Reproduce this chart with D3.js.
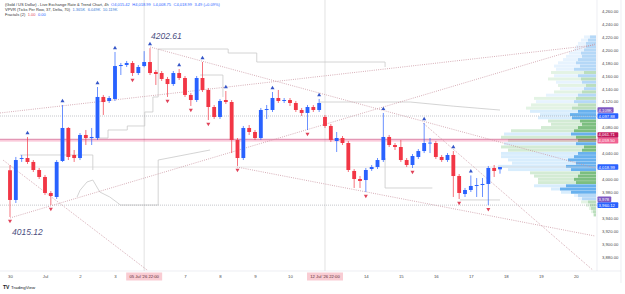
<!DOCTYPE html>
<html>
<head>
<meta charset="utf-8">
<script src="https://cdn.jsdelivr.net/npm/d3@7"></script>
<style>
  html, body { margin: 0; padding: 0; background: #fff; }
  svg { display: block; font-family: "Liberation Sans", Roboto, Arial, sans-serif; }
</style>
</head>
<body>
<svg id="chart" width="625" height="294"></svg>
<script>
// 4h candles, index 0 = first bar of 30 Jun
const opens = [4014.0, 3968.1, 4031.4, 4032.9, 4026.8, 4014.4, 4003.6, 3978.9, 3972.7, 4028.3,
  4079.3, 4037.6, 4032.9, 4068.5, 4063.8, 4063.8, 4127.2, 4121.0, 4124.1, 4175.0,
  4176.6, 4179.7, 4164.2, 4175.0, 4181.2, 4165.8, 4164.2, 4155.0, 4147.2, 4164.2,
  4156.5, 4130.3, 4122.5, 4156.5, 4138.0, 4111.7, 4096.3, 4122.5, 4119.4, 4060.7,
  4032.9, 4079.3, 4073.1, 4063.8, 4107.1, 4107.1, 4125.6, 4121.0, 4122.5, 4117.9,
  4107.1, 4102.5, 4111.7, 4107.1, 4096.3, 4082.4, 4059.2, 4063.8, 4056.1, 4012.9,
  4000.5, 3998.9, 4015.9, 4019.0, 4029.8, 4065.4, 4053.0, 4049.9, 4029.8, 4022.1,
  4034.5, 4043.7, 4056.1, 4056.1, 4034.5, 4029.8, 4037.6, 4005.1, 3977.3, 3983.5,
  3989.7, 3991.2, 3992.8, 4017.5, 4015.42];
const highs = [4022.0, 4034.5, 4037.6, 4065.4, 4029.8, 4017.5, 4006.7, 3981.9, 4029.8, 4114.8,
  4080.8, 4045.3, 4071.5, 4076.2, 4079.3, 4142.6, 4130.3, 4128.7, 4196.7, 4179.7,
  4182.8, 4182.8, 4176.6, 4198.0, 4202.61, 4168.9, 4167.3, 4158.1, 4167.3, 4170.4,
  4159.6, 4133.4, 4159.6, 4181.2, 4141.1, 4114.8, 4124.1, 4136.4, 4122.5, 4063.8,
  4082.4, 4083.9, 4076.2, 4110.2, 4114.8, 4134.9, 4138.0, 4125.6, 4125.6, 4121.0,
  4110.2, 4114.8, 4114.8, 4124.1, 4099.4, 4085.4, 4073.1, 4066.9, 4059.2, 4015.9,
  4005.1, 4017.5, 4022.1, 4032.9, 4102.5, 4068.5, 4056.1, 4060.7, 4032.9, 4039.1,
  4046.8, 4087.0, 4063.8, 4059.2, 4037.6, 4040.6, 4043.7, 4008.2, 3986.6, 4006.0,
  4002.0, 4002.0, 4020.6, 4022.1, 4018.99];
const lows = [3941.8, 3963.4, 4026.8, 4023.7, 4011.3, 4000.5, 3975.8, 3960.3, 3969.6, 4026.8,
  4029.8, 4026.8, 4029.8, 4053.0, 4053.0, 4060.7, 4099.4, 4117.9, 4121.0, 4161.1,
  4173.5, 4159.6, 4161.1, 4173.0, 4161.1, 4145.7, 4151.9, 4127.2, 4144.2, 4153.4,
  4127.2, 4113.3, 4119.4, 4134.9, 4091.6, 4093.2, 4093.2, 4116.4, 4040.6, 4020.6,
  4029.8, 4068.5, 4060.7, 4060.7, 4093.2, 4104.0, 4117.9, 4117.9, 4113.3, 4104.0,
  4097.8, 4076.2, 4104.0, 4104.0, 4079.3, 4057.6, 4042.2, 4053.0, 4011.3, 3986.6,
  3986.6, 3980.4, 4012.9, 4015.9, 4026.8, 4049.9, 4045.3, 4026.8, 4019.0, 4017.5,
  4031.4, 4040.6, 4040.6, 4031.4, 4026.8, 4026.8, 3972.7, 3969.6, 3972.7, 3980.4,
  3972.7, 3972.7, 3960.12, 4003.6, 4008.75];
const closes = [3968.1, 4029.8, 4032.9, 4026.8, 4014.4, 4003.6, 3978.9, 3974.2, 4026.8, 4079.3,
  4034.5, 4032.9, 4068.5, 4063.8, 4065.4, 4127.2, 4119.4, 4125.6, 4175.0, 4176.6,
  4179.7, 4164.2, 4173.5, 4181.2, 4164.2, 4162.7, 4155.0, 4147.2, 4164.2, 4156.5,
  4130.3, 4122.5, 4156.5, 4138.0, 4111.7, 4096.3, 4121.0, 4119.4, 4060.7, 4032.9,
  4079.3, 4073.1, 4063.8, 4107.1, 4108.6, 4125.6, 4121.0, 4122.5, 4117.9, 4107.1,
  4102.5, 4111.7, 4107.1, 4117.9, 4082.4, 4060.7, 4063.8, 4056.1, 4014.4, 4000.5,
  3997.4, 4014.4, 4019.0, 4029.8, 4065.4, 4053.0, 4049.9, 4029.8, 4022.1, 4036.0,
  4043.7, 4056.1, 4056.6, 4034.5, 4029.8, 4037.6, 4005.1, 3978.9, 3983.5, 3989.7,
  3991.2, 3992.8, 4017.5, 4012.9, 4018.99];

const fractalHighIdx = [3, 9, 15, 18, 24, 29, 33, 37, 45, 53, 64, 71, 76, 79];
const fractalLowIdx = [0, 7, 21, 27, 31, 34, 39, 51, 61, 69, 77, 82];

const dayTickIdx = [0, 6, 12, 18, 30, 36, 42, 48, 61, 67, 73, 79, 85, 91, 97];
const dayTickLabels = ['30', 'Jul', '2', '3', '7', '8', '9', '10', '14', '15', '16', '17', '18', '19', '20'];
const markIdx = [23, 54];
const markLabels = ["05 Jul '26   22:00", "12 Jul '26   22:00"];

const priceTicks = [4260, 4240, 4220, 4200, 4180, 4160, 4140, 4120, 4080, 4040, 4000, 3980, 3940, 3920, 3900, 3880];

const tagPrices = [4107.0, 4097.8, 4061.71, 4059.5, 4018.99, 3966.0, 3960.12];
const tagTexts = ['4,109K', '4,097.88', '4,061.71', '4,059.50', '4,018.99', '3,978', '3,960.12'];
const tagColors = ['#7e57c2', '#2962ff', '#c2185b', '#f06292', '#2962ff', '#7e57c2', '#2962ff'];

// trend lines: [startIdx, startPrice, endIdx, endPrice]
const trendLines = [
  [0, 3940.3, 100.3, 4209.0],
  [-1.7, 4102.5, 100.3, 4207.5],
  [24, 4204.4, 100.3, 4017.5],
  [38.9, 4019.0, 100.3, 3912.4],
  [-1.2, 4029.8, 23.5, 3859.9],
  [70.8, 4087.0, 99.9, 3859.9]
];
const levelPrices = [4097.8, 3960.12];
const redLevels = [4061.71, 4059.5];

// grey step lines: [idx, price] points
const stepUpper = [[14.9, 4063.8], [16.8, 4063.8], [16.8, 4076.2], [20.1, 4076.2], [20.1, 4082.4], [23.1, 4082.4],
  [23.1, 4104.0], [24.5, 4104.0], [24.5, 4127.2], [25.4, 4127.2], [25.4, 4201.3], [37.4, 4201.3], [37.4, 4195.1],
  [42.3, 4195.1], [42.3, 4181.2], [64.3, 4181.2], [64.3, 4173.5]];
const stepLower = [[11.5, 3972.7], [12.0, 3983.0], [13.2, 3995.9], [14.2, 3998.9], [14.9, 3988.1], [15.4, 3980.4],
  [17.1, 3972.7], [18.5, 3963.4], [18.9, 3960.3], [25.4, 3960.3], [25.4, 4029.8], [34.3, 4045.3]];
const stepLeft = [[1.7, 4037.6], [14.2, 4037.6], [14.2, 4014.4]];
const stepMid = [[32.6, 4161.1], [36.5, 4161.1], [36.5, 4127.2]];
const stepRight = [[53.1, 4119.4], [68.6, 4119.4], [76.0, 4113.0], [84, 4107.0]];
const stepLow2 = [[64.3, 4032.9], [64.3, 3986.6], [72.4, 3986.6]];
const stepLow3 = [[77.1, 3968.1], [84, 3968.1]];

// volume profile rows (price, total, delta: + green / - blue)
const vpPrice = [4220, 4215, 4210, 4205, 4200, 4195, 4190, 4185, 4180, 4175, 4170, 4165, 4160, 4155, 4150, 4145,
  4140, 4135, 4130, 4125, 4120, 4115, 4110, 4105, 4100, 4095, 4090, 4085, 4080, 4075, 4070, 4065, 4060, 4055, 4050,
  4045, 4040, 4035, 4030, 4025, 4020, 4015, 4010, 4005, 4000, 3995, 3990, 3985, 3980, 3975, 3970, 3965, 3960, 3955,
  3950, 3945];
const vpTotal = [12, 15, 18, 20, 22, 27, 30, 33, 38, 42, 40, 45, 42, 48, 40, 38,
  36, 42, 50, 62, 60, 65, 70, 66, 56, 58, 48, 45, 55, 85, 92, 95, 88, 92, 95,
  88, 95, 95, 88, 84, 98, 88, 66, 62, 58, 58, 62, 45, 35, 22, 18, 15, 10, 7,
  5, 3];
const vpDelta = [-6, -8, -10, -10, -12, -15, -14, -18, -20, -16, -22, 12, -18, 15, -14, 10,
  -12, 14, -18, 20, -22, 18, 24, -18, -26, -24, 16, 14, 18, 22, -25, 20, 18, -20, 12,
  14, -18, -22, -28, -20, -30, -25, 16, 18, 22, 20, -30, -36, -25, -18, -14, 8, 6, 5,
  3, 2];
const vaHigh = 4109, vaLow = 3978;

const headerMain = '(Gold / US Dollar) - Live Exchange Rate & Trend Chart, 4h';
const headerOhlc = ['O4,015.42', 'H4,018.99', 'L4,008.75', 'C4,018.99', '3.49 (+0.09%)'];
const headerVp = 'VPVR (Ticks Per Row, 37, Delta, 70)';
const headerVpValues = ['1.365K', '6.049K', '10.119K'];
const headerFr = 'Fractals (2)';
const headerFrValues = ['1.00', '0.00'];

const upColor = '#2962ff';
const downColor = '#f23645';
const plotRight = 597;
const plotBottom = 271;

const svg = d3.select('#chart');
const x = d3.scaleLinear().domain([0, 84]).range([10, 500]);
const y = d3.scaleLinear().domain([3880, 4260]).range([257, 11]);
const vx = d3.scaleLinear().domain([0, 100]).range([0, 100]);

svg.append('defs').append('clipPath').attr('id', 'plot')
  .append('rect').attr('x', 0).attr('y', 0).attr('width', plotRight).attr('height', plotBottom);

const plot = svg.append('g').attr('clip-path', 'url(#plot)');

// crosshair-like vertical markers
plot.selectAll('line.vmark').data(markIdx).join('line')
  .attr('x1', (d) => x(d)).attr('x2', (d) => x(d))
  .attr('y1', 0).attr('y2', plotBottom)
  .attr('stroke', '#d6d6d6').attr('stroke-width', 0.7);

// volume profile
const rowH = Math.abs(y(0) - y(5)) - 0.3;
const vp = vpPrice.map((p, i) => ({ p, total: vpTotal[i], delta: vpDelta[i], va: p <= vaHigh && p >= vaLow }));
plot.append('g').selectAll('rect').data(vp).join('rect')
  .attr('x', (d) => plotRight - 1 - vx(d.total))
  .attr('width', (d) => vx(d.total))
  .attr('y', (d) => y(d.p) - rowH / 2)
  .attr('height', rowH)
  .attr('fill', (d) => d.delta > 0 ? '#81c784' : '#90caf9')
  .attr('fill-opacity', (d) => d.va ? 0.35 : 0.22);
plot.append('g').selectAll('rect').data(vp).join('rect')
  .attr('x', (d) => plotRight - 1 - vx(Math.abs(d.delta)))
  .attr('width', (d) => vx(Math.abs(d.delta)))
  .attr('y', (d) => y(d.p) - rowH / 2)
  .attr('height', rowH)
  .attr('fill', (d) => d.delta > 0 ? '#43a047' : '#1e88e5')
  .attr('fill-opacity', (d) => d.va ? 0.6 : 0.25);

// grey step lines
const stepLine = d3.line().x((d) => x(d[0])).y((d) => y(d[1]));
plot.append('g').selectAll('path').data([stepUpper, stepLower, stepLeft, stepMid, stepRight, stepLow2, stepLow3]).join('path')
  .attr('d', stepLine).attr('fill', 'none').attr('stroke', '#c9c9c9').attr('stroke-width', 0.8);

// horizontal levels
plot.selectAll('line.level').data(levelPrices).join('line')
  .attr('x1', 0).attr('x2', plotRight)
  .attr('y1', (d) => y(d)).attr('y2', (d) => y(d))
  .attr('stroke', '#9598a1').attr('stroke-width', 0.7).attr('stroke-dasharray', '0.8 1.2');
plot.selectAll('line.red').data(redLevels).join('line')
  .attr('x1', 0).attr('x2', plotRight)
  .attr('y1', (d) => y(d)).attr('y2', (d) => y(d))
  .attr('stroke', (d, i) => i === 0 ? '#c2185b' : '#f06292')
  .attr('stroke-opacity', 0.45).attr('stroke-width', 1.2);
plot.append('line')
  .attr('x1', 0).attr('x2', plotRight)
  .attr('y1', y(closes[closes.length - 1])).attr('y2', y(closes[closes.length - 1]))
  .attr('stroke', '#d0d0d0').attr('stroke-width', 0.6);

// trend lines
plot.selectAll('line.trend').data(trendLines).join('line')
  .attr('x1', (d) => x(d[0])).attr('y1', (d) => y(d[1]))
  .attr('x2', (d) => x(d[2])).attr('y2', (d) => y(d[3]))
  .attr('stroke', '#c78f9c').attr('stroke-width', 0.8).attr('stroke-dasharray', '0.9 1.3');

// candles
const candles = opens.map((o, i) => ({ i, o, h: highs[i], l: lows[i], c: closes[i] }));
const bw = (x(1) - x(0)) * 0.66;
const colorOf = (d) => d.c >= d.o ? upColor : downColor;
plot.append('g').selectAll('line').data(candles).join('line')
  .attr('x1', (d) => x(d.i)).attr('x2', (d) => x(d.i))
  .attr('y1', (d) => y(d.h)).attr('y2', (d) => y(d.l))
  .attr('stroke', colorOf).attr('stroke-width', 0.7);
plot.append('g').selectAll('rect').data(candles).join('rect')
  .attr('x', (d) => x(d.i) - bw / 2).attr('width', bw)
  .attr('y', (d) => y(Math.max(d.o, d.c)))
  .attr('height', (d) => Math.max(0.8, Math.abs(y(d.o) - y(d.c))))
  .attr('fill', colorOf);

// fractal marks
const tri = d3.symbol(d3.symbolTriangle, 7);
plot.append('g').selectAll('path').data(fractalHighIdx).join('path')
  .attr('d', tri)
  .attr('transform', (d) => `translate(${x(d)},${y(highs[d]) - 4})`)
  .attr('fill', '#3455c8');
plot.append('g').selectAll('path').data(fractalLowIdx).join('path')
  .attr('d', tri)
  .attr('transform', (d) => `translate(${x(d)},${y(lows[d]) + 4}) rotate(180)`)
  .attr('fill', '#e0435a');

// annotations
plot.append('text').attr('x', x(24) + 1).attr('y', y(highs[24]) - 9)
  .attr('font-size', 8.5).attr('font-style', 'italic').attr('fill', '#4b4e80').text('4202.61');
plot.append('text').attr('x', x(0) + 2).attr('y', y(lows[0]) + 18)
  .attr('font-size', 8.5).attr('font-style', 'italic').attr('fill', '#4b4e80').text('4015.12');

// frame
svg.append('line').attr('x1', plotRight).attr('x2', plotRight).attr('y1', 0).attr('y2', plotBottom)
  .attr('stroke', '#e0e3eb').attr('stroke-width', 0.6);
svg.append('line').attr('x1', 0).attr('x2', 621).attr('y1', plotBottom).attr('y2', plotBottom)
  .attr('stroke', '#e0e3eb').attr('stroke-width', 0.6);
svg.append('line').attr('x1', 621).attr('x2', 621).attr('y1', 0).attr('y2', plotBottom + 12)
  .attr('stroke', '#e0e3eb').attr('stroke-width', 0.6);

// price axis
const yAxis = svg.append('g').attr('transform', `translate(${plotRight + 3},0)`)
  .call(d3.axisRight(y).tickValues(priceTicks).tickFormat(d3.format(',.2f')).tickSize(0).tickPadding(2));
yAxis.select('.domain').remove();
yAxis.selectAll('text').attr('font-size', 4.2).attr('fill', '#4a4a4a').attr('font-family', 'Liberation Sans, Arial, sans-serif');

// price tags, pushed up when they collide
const tags = tagPrices.map((p, i) => ({ p, text: tagTexts[i], color: tagColors[i], ty: y(p) }));
tags.sort((a, b) => b.ty - a.ty);
for (let i = 1; i < tags.length; i += 1) {
  if (tags[i - 1].ty - tags[i].ty < 5.8) tags[i].ty = tags[i - 1].ty - 5.8;
}
const tagG = svg.append('g').selectAll('g').data(tags).join('g')
  .attr('transform', (d) => `translate(${plotRight},${d.ty})`);
tagG.append('rect').attr('x', 0.5).attr('y', -2.8).attr('height', 5.6).attr('rx', 0.8)
  .attr('width', (d) => d.text.length * 2.35 + 2)
  .attr('fill', (d) => d.color);
tagG.append('text').attr('x', 1.6).attr('y', 1.5).attr('font-size', 4.2).attr('fill', '#fff').text((d) => d.text);

// time axis
const xAxis = svg.append('g').attr('transform', `translate(0,${plotBottom + 2})`)
  .call(d3.axisBottom(x).tickValues(dayTickIdx).tickFormat((d, i) => dayTickLabels[i]).tickSize(0).tickPadding(2));
xAxis.select('.domain').remove();
xAxis.selectAll('text').attr('font-size', 4.3).attr('fill', '#4a4a4a').attr('font-family', 'Liberation Sans, Arial, sans-serif');

const marks = svg.append('g').selectAll('g').data(markIdx).join('g')
  .attr('transform', (d) => `translate(${x(d)},${plotBottom + 1.5})`);
marks.append('rect').attr('x', -18).attr('y', 0).attr('width', 36).attr('height', 8).attr('fill', '#f9ccd3');
marks.append('text').attr('y', 5.5).attr('text-anchor', 'middle').attr('font-size', 4.2).attr('fill', '#5a2a33')
  .text((d, i) => markLabels[i]);

// legend header
const header = svg.append('g').attr('font-size', 4).attr('fill', '#333');
const l1 = header.append('text').attr('x', 5).attr('y', 5.5);
l1.append('tspan').text(headerMain);
headerOhlc.forEach((t) => l1.append('tspan').attr('dx', 2.5).attr('fill', upColor).text(t));
const l2 = header.append('text').attr('x', 5).attr('y', 11);
l2.append('tspan').text(headerVp);
headerVpValues.forEach((t) => l2.append('tspan').attr('dx', 2.5).attr('fill', '#3a7bd5').text(t));
const l3 = header.append('text').attr('x', 5).attr('y', 16.3);
l3.append('tspan').text(headerFr);
headerFrValues.forEach((t, i) => l3.append('tspan').attr('dx', 2.5).attr('fill', i === 0 ? '#e0435a' : upColor).text(t));

// logo
const logo = svg.append('g').attr('transform', 'translate(3,288.5)');
logo.append('text').attr('font-size', 5).attr('font-weight', 'bold').attr('fill', '#131722').text('TV');
logo.append('text').attr('x', 8).attr('font-size', 4.4).attr('fill', '#131722').text('TradingView');
</script>
</body>
</html>
